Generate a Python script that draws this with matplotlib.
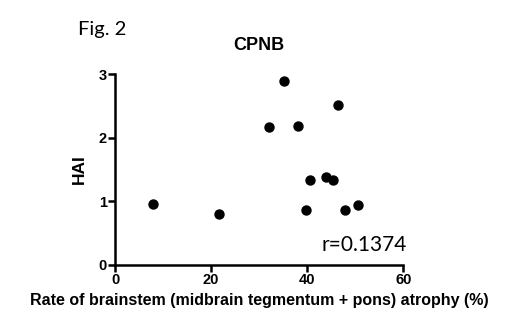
import matplotlib.pyplot as plt

# brainstem atrophy rate (%) vs HAI
atrophy = [8.0, 21.7, 32.1, 35.1, 38.1, 39.8, 40.6, 44.0, 45.4, 46.4, 47.9, 50.6]
hai = [0.96, 0.80, 2.17, 2.89, 2.19, 0.87, 1.33, 1.39, 1.33, 2.51, 0.86, 0.94]

xticks = [0, 20, 40, 60]
yticks = [0, 1, 2, 3]

W, H = 522, 335
fig = plt.figure(figsize=(W / 100, H / 100), dpi=100)
ax = fig.add_axes([115 / W, (H - 265) / H, (403.3 - 115) / W, (265 - 74) / H])

ax.scatter(atrophy, hai, s=42, color='black', zorder=3, clip_on=False)

ax.set_xlim(0, 60)
ax.set_ylim(0, 3)
ax.set_xticks(xticks)
ax.set_yticks(yticks)
for s in ['top', 'right']:
    ax.spines[s].set_visible(False)
for s in ['left', 'bottom']:
    ax.spines[s].set_linewidth(1.8)
ax.tick_params(direction='out', length=5, width=1.8, pad=1)
for lab in ax.get_xticklabels() + ax.get_yticklabels():
    lab.set_fontfamily('Liberation Sans')
    lab.set_fontweight('bold')
    lab.set_fontsize(10.5)

ax.set_xlabel('Rate of brainstem (midbrain tegmentum + pons) atrophy (%)',
              fontfamily='Liberation Sans', fontweight='bold', fontsize=11.5, labelpad=4)
ax.set_ylabel('HAI', fontfamily='Liberation Sans', fontweight='bold', fontsize=12.5, labelpad=8)

fig.text(259 / W, 1 - 46 / H, 'CPNB', ha='center', va='center',
         fontfamily='Liberation Sans', fontweight='bold', fontsize=13)
fig.text(78 / W, 1 - 30 / H, 'Fig. 2', ha='left', va='center',
         fontfamily='Lato', fontsize=14.5)
fig.text(407 / W, 1 - 245 / H, 'r=0.1374', ha='right', va='center',
         fontfamily='Lato', fontsize=15)

fig.savefig('out.png', dpi=100)
